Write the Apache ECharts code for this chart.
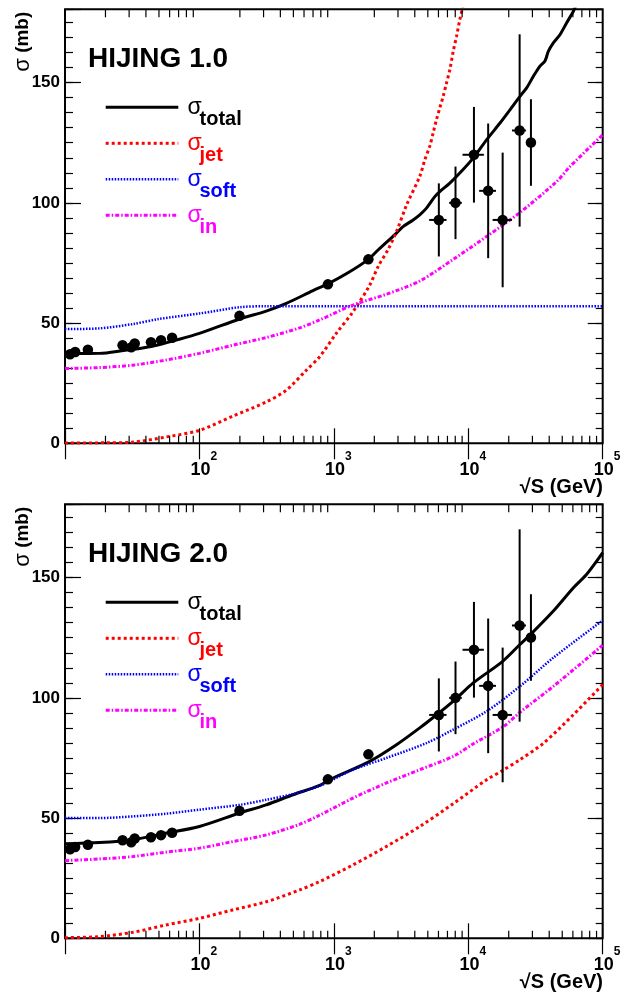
<!DOCTYPE html>
<html><head><meta charset="utf-8">
<script src="https://cdn.jsdelivr.net/npm/echarts@6.0.0/dist/echarts.min.js"></script>
<style>html,body{margin:0;padding:0;background:#fff}#c{width:635px;height:994px}</style>
</head><body><div id="c"></div>
<script>
const FONT = '"Liberation Sans", Arial, Helvetica, sans-serif';
const X_MIN = 10, X_MAX = 100000, Y_MAX = 180.5;

const panelTitles = ['HIJING 1.0', 'HIJING 2.0'];
const legendLabels = ['total', 'jet', 'soft', 'in'];
const yTickLabels = [0, 50, 100, 150];
const xMinorTicks = [20,30,40,50,60,70,80,90,200,300,400,500,600,700,800,900,
  2000,3000,4000,5000,6000,7000,8000,9000,20000,30000,40000,50000,60000,70000,80000,90000];

// HIJING 1.0 curves [sqrt(s) GeV, sigma mb]
const h1Total = [[10,37.2],[12,37.3],[18,37.4],[28,38.7],[36,39.4],[50,41.0],[63,42.5],[100,45.7],[199,51.7],[314,55.0],[443,58.2],[700,63.5],[903,66.3],[1274,70.9],[1807,76.5],[2133,80.4],[2460,83.6],[2924,87.4],[3270,90.1],[3890,92.9],[4355,95.0],[4886,97.8],[5636,102.6],[6140,104.7],[7290,108.2],[8650,112.4],[10880,118.6],[13680,126.2],[17220,133.2],[20420,138.7],[24230,144.3],[27180,147.8],[30470,152.6],[34140,156.9],[37200,159.0],[39400,163.0],[42940,166.5],[48170,170.0],[53960,174.9],[60540,179.7],[64000,183]];
const h1Jet = [[10,0.1],[20,0.2],[32,0.5],[56,2.6],[100,5.4],[177,11.3],[314,17.2],[443,22.1],[624,30.4],[784,36.0],[1042,45.7],[1387,54.7],[1849,65.8],[2134,73.5],[2531,80.6],[2924,88],[3470,99],[4355,111],[4750,117.9],[5170,123.6],[5475,129],[5800,134.6],[6140,139.5],[6505,144.3],[6890,149.9],[7295,155.4],[7727,163],[8180,169.3],[8650,176.2],[9070,181],[9770,188]];
const h1Soft = [[10,47.5],[18,47.8],[32,49.6],[50,51.7],[100,54.0],[199,56.6],[314,57.0],[1000,57.0],[10000,57.0],[100000,57.0]];
const h1In = [[10,31.1],[18,31.5],[32,32.5],[56,34.6],[100,37.4],[177,40.8],[314,44.0],[556,48.0],[784,51.3],[1387,57.5],[2460,62.0],[4355,67.5],[7727,76.5],[13680,86.0],[24230,96.0],[45500,108.9],[57150,115.1],[100000,128.3]];

// HIJING 2.0 curves
const h2Total = [[10,39.3],[18,39.8],[32,41.0],[56,43.7],[100,46.5],[199,52.1],[314,55.5],[496,59.7],[784,63.6],[931,66.0],[1849,73.6],[2924,80.5],[4355,87.5],[6040,93.7],[7980,99.3],[10890,106.2],[18020,115.2],[24230,122.2],[29110,126.4],[42940,136.1],[60540,145.8],[76000,151.4],[100000,160.4]];
const h2Jet = [[10,0.25],[18,0.7],[32,2.5],[56,5.5],[100,8.3],[177,11.8],[314,15.2],[556,20.1],[784,23.6],[1387,30.5],[2460,38.2],[4355,46.5],[7727,56.0],[13680,65.9],[18020,69.8],[24230,74.3],[36000,81.0],[60540,93.0],[100000,105.5]];
const h2Soft = [[10,50.0],[18,50.0],[32,50.7],[56,51.8],[100,53.5],[199,55.5],[314,57.6],[496,60.0],[784,63.4],[1387,70.1],[2460,75.0],[4890,81.2],[7727,86.8],[13680,94.4],[24230,104.8],[42940,116.7],[100000,132.2]];
const h2In = [[10,32.3],[18,33.0],[32,34.0],[56,35.8],[100,37.5],[177,40.2],[314,43.0],[556,47.4],[784,51.2],[1387,58.3],[2460,64.6],[4355,70.1],[7727,75.7],[11000,81.0],[18200,88.0],[24230,94.0],[42940,104.8],[100000,121.9]];

// measured data
const accX = [10.9,11.9,14.8,26.8,31.1,33.0,43.6,51.8,62.6,198.6,903,1807];
const accY = [37.0,38.0,38.9,40.8,39.9,41.5,42.0,42.9,43.9,53.0,66.1,76.5];
const cosX = [6040,8035,11020,14060,18020,24100,29250];
const cosY = [92.9,100.0,120.0,105.0,92.9,130.1,125.1];
const cosErrY = [15.2,15.1,19.9,28.0,28.0,40.0,18.0];
const cosXLo = [5117,7210,9060,12050,15170,21130,29250];
const cosXHi = [6887,8950,13060,16070,21130,26850,29250];

const curves = [[h1Total,h1Jet,h1Soft,h1In],[h2Total,h2Jet,h2Soft,h2In]];
const styles = [
  {color:'#000000', width:3, type:'solid'},
  {color:'#ff0000', width:3, type:[3,3]},
  {color:'#0000ff', width:2.5, type:[1.5,1.5]},
  {color:'#ff00ff', width:3, type:[4,2,1.5,2]}
];

const GRID_LEFT = 65, GRID_W = 537.7, GRID_H = 434;
const gridTops = [9.3, 504.3];

const chart = echarts.init(document.getElementById('c'), null, {renderer:'canvas'});
const grid = [], xAxis = [], yAxis = [], series = [], graphic = [];

function tickStyle(len){ return {show:true, inside:true, length:len, lineStyle:{color:'#000', width:1.2}}; }

gridTops.forEach((top, p) => {
  grid.push({left:GRID_LEFT, top:top, width:GRID_W, height:GRID_H, show:true, borderColor:'#000', borderWidth:2, backgroundColor:'transparent'});
  xAxis.push({gridIndex:p, type:'log', logBase:10, min:X_MIN, max:X_MAX, position:'bottom',
    axisLine:{show:false}, splitLine:{show:false}, axisTick:tickStyle(15),
    axisLabel:{show:true, margin:7, showMinLabel:true, showMaxLabel:true, hideOverlap:false,
      formatter:function(v){ const n = Math.round(Math.log10(v)); return n < 2 ? '' : '{b|10}{s|' + n + '}'; },
      rich:{
        b:{fontFamily:FONT, fontSize:18, fontWeight:'bold', color:'#000', lineHeight:29, verticalAlign:'bottom', padding:[0,0,0,9]},
        s:{fontFamily:FONT, fontSize:12, fontWeight:'bold', color:'#000', lineHeight:12, verticalAlign:'top'}
      }}});
  xAxis.push({gridIndex:p, type:'log', logBase:10, min:X_MIN, max:X_MAX, position:'top',
    axisLine:{show:false}, splitLine:{show:false}, axisTick:tickStyle(16), axisLabel:{show:false}});
  yAxis.push({gridIndex:p, type:'value', min:0, max:Y_MAX, interval:50, position:'left',
    axisLine:{show:false}, splitLine:{show:false}, axisTick:tickStyle(16),
    axisLabel:{show:true, margin:5, fontFamily:FONT, fontSize:17, fontWeight:'bold', color:'#000', padding:[3,0,0,0],
      formatter:function(v){ return yTickLabels.indexOf(v) >= 0 ? String(v) : ''; }}});
  yAxis.push({gridIndex:p, type:'value', min:0, max:Y_MAX, interval:6.25, position:'left',
    axisLine:{show:false}, splitLine:{show:false}, axisTick:tickStyle(8), axisLabel:{show:false}});
  yAxis.push({gridIndex:p, type:'value', min:0, max:Y_MAX, interval:50, position:'right',
    axisLine:{show:false}, splitLine:{show:false}, axisTick:tickStyle(15), axisLabel:{show:false}});
  yAxis.push({gridIndex:p, type:'value', min:0, max:Y_MAX, interval:6.25, position:'right',
    axisLine:{show:false}, splitLine:{show:false}, axisTick:tickStyle(7), axisLabel:{show:false}});

  const xi = 2*p, yi = 4*p;
  series.push({type:'custom', xAxisIndex:xi, yAxisIndex:yi, silent:true, z:3,
    data: xMinorTicks.map(v => [v, 0]),
    renderItem:function(params, api){
      const x = api.value(0);
      const pb = api.coord([x, 0]);
      const pt = api.coord([x, Y_MAX]);
      return {type:'group', children:[
        {type:'line', shape:{x1:pb[0], y1:pb[1], x2:pb[0], y2:pb[1]-7.5}, style:{stroke:'#000', lineWidth:1.2}},
        {type:'line', shape:{x1:pt[0], y1:pt[1], x2:pt[0], y2:pt[1]+8}, style:{stroke:'#000', lineWidth:1.2}}
      ]};
    }});
  curves[p].forEach((d, k) => {
    const st = styles[k];
    series.push({type:'line', name:legendLabels[k], xAxisIndex:xi, yAxisIndex:yi, data:d,
      showSymbol:false, symbol:'none', smooth:0.3, clip:true, silent:true,
      lineStyle:{color:st.color, width:st.width, type:st.type, cap:'butt'}, z:2});
  });
  series.push({type:'custom', xAxisIndex:xi, yAxisIndex:yi, silent:true, z:4,
    data: cosX.map((x,i) => [x, cosY[i], cosY[i]-cosErrY[i], cosY[i]+cosErrY[i], cosXLo[i], cosXHi[i]]),
    renderItem:function(params, api){
      const x = api.value(0), y = api.value(1);
      const a = api.coord([x, api.value(2)]), b = api.coord([x, api.value(3)]);
      const l = api.coord([api.value(4), y]), r = api.coord([api.value(5), y]);
      return {type:'group', children:[
        {type:'line', shape:{x1:a[0], y1:a[1], x2:b[0], y2:b[1]}, style:{stroke:'#000', lineWidth:2}},
        {type:'line', shape:{x1:l[0], y1:l[1], x2:r[0], y2:r[1]}, style:{stroke:'#000', lineWidth:2}}
      ]};
    }});
  series.push({type:'scatter', xAxisIndex:xi, yAxisIndex:yi, silent:true, z:5,
    data: accX.map((x,i) => [x, accY[i]]).concat(cosX.map((x,i) => [x, cosY[i]])),
    symbol:'circle', symbolSize:10.5, itemStyle:{color:'#000', opacity:1}});

  const off = top - gridTops[0];
  graphic.push({type:'text', x:88, y:59.6+off, style:{text:panelTitles[p], font:'bold 28px ' + FONT, fill:'#000', align:'left', verticalAlign:'middle', textAlign:'left', textVerticalAlign:'middle'}});
  graphic.push({type:'text', x:22.7, y:11.7+off, rotation:Math.PI/2,
    style:{text:'{s|σ} (mb)', font:'bold 19px ' + FONT, fill:'#000', align:'right', verticalAlign:'middle', textAlign:'right', textVerticalAlign:'middle',
      rich:{s:{fontFamily:FONT, fontSize:22, fontWeight:'normal', fill:'#000'}}}});
  graphic.push({type:'text', x:603, y:487.6+off, style:{text:'√S (GeV)', font:'bold 20px ' + FONT, fill:'#000', align:'right', verticalAlign:'middle', textAlign:'right', textVerticalAlign:'middle'}});
  const rowY = [107.3, 143.3, 179.3, 215.3];
  legendLabels.forEach((lab, k) => {
    const st = styles[k];
    const yy = rowY[k] + off;
    graphic.push({type:'line', shape:{x1:105.7, y1:yy, x2:178.3, y2:yy},
      style:{stroke:st.color, lineWidth:st.width, lineDash: st.type === 'solid' ? null : st.type, lineCap:'butt'}});
    graphic.push({type:'text', x:187.5, y:yy+0.3, style:{text:'σ', font:'23px ' + FONT, fill:st.color, align:'left', verticalAlign:'middle', textAlign:'left', textVerticalAlign:'middle'}});
    graphic.push({type:'text', x:199.5, y:yy+12.5, style:{text:lab, font:'bold 20px ' + FONT, fill:st.color, align:'left', verticalAlign:'middle', textAlign:'left', textVerticalAlign:'middle'}});
  });
});

chart.setOption({animation:false, backgroundColor:'#fff', grid, xAxis, yAxis, series, graphic});
</script></body></html>
